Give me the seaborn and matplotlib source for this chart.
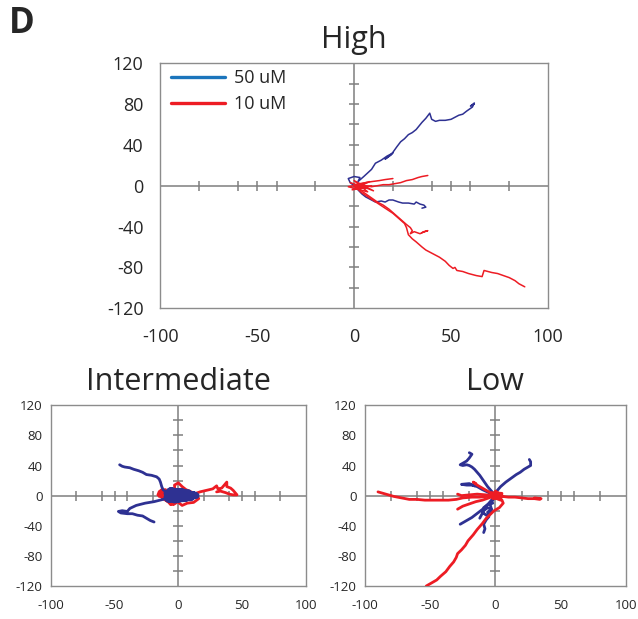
import matplotlib
matplotlib.use("Agg")
import matplotlib.pyplot as plt
from matplotlib.lines import Line2D
import numpy as np
import pandas as pd
import seaborn as sns

sns.set_style("white")
plt.rcParams["font.family"] = ["Open Sans", "DejaVu Sans"]

# ---- cell trajectories (x, y displacement) ----
# High concentration gradient
high_50uM = [
    ([0, -2, -3, 0, 3, 2, 5, 9, 11, 14, 17, 20, 16, 19, 22, 24, 26, 28, 30, 32, 35, 37, 39, 40, 42, 44, 47, 50, 54, 56, 58, 61, 62, 60, 62],
     [0, 3, 7, 9, 8, 4, 9, 16, 22, 25, 29, 32, 26, 30, 38, 43, 46, 50, 52, 55, 62, 66, 71, 65, 63, 64, 64, 65, 69, 70, 73, 77, 81, 78, 80]),
    ([0, 2, 4, 6, 9, 11, 14, 16, 18, 20, 23, 25, 28, 31, 32, 34, 36, 37, 35],
     [0, -4, -8, -11, -14, -16, -15, -16, -14, -14, -16, -17, -17, -18, -16, -18, -19, -21, -22]),
]
high_10uM = [
    ([0, 3, 6, 9, 12, 15, 18, 21, 24, 27, 30, 33, 35, 38],
     [0, -1, 0, -1, 0, 1, 1, 2, 3, 5, 6, 8, 9, 10]),
    ([0, 3, 6, 9, 13, 16, 20],
     [0, 2, 3, 4, 5, 6, 7]),
    ([0, 3, 6, 9, 12, 15, 18, 21, 24, 27, 29, 30, 29, 31, 34, 36, 38, 35],
     [0, -4, -8, -12, -16, -19, -23, -28, -33, -38, -41, -44, -47, -45, -47, -45, -44, -46]),
    ([0, 4, 8, 12, 16, 20, 23, 26, 27, 28, 30, 32, 35, 37, 40, 44, 47, 49, 51, 52, 53, 56, 59, 63, 66, 67, 69, 71, 74, 77, 80, 83, 85, 88],
     [0, -7, -12, -17, -22, -27, -32, -37, -41, -48, -52, -55, -60, -63, -66, -70, -74, -78, -81, -80, -83, -84, -86, -88, -89, -83, -84, -85, -86, -88, -90, -93, -96, -99]),
    ([-2, 6, -1, 8, 2, 10, 0, 7, -3, 5, 1, 9],
     [3, -2, -4, 4, 1, -5, 5, -6, -1, 2, -3, 0]),
]

# Intermediate concentration gradient
inter_50uM = [
    ([0, -5, -9, -12, -13, -14, -15, -17, -21, -25, -28, -31, -35, -38, -42, -44, -46],
     [0, 2, 4, 8, 12, 18, 22, 25, 27, 28, 31, 33, 35, 37, 38, 39, 41]),
    ([0, -6, -12, -19, -26, -33, -38, -40, -44, -47, -45, -40, -36, -32, -28, -25, -22, -19],
     [0, -3, -5, -8, -10, -13, -17, -21, -20, -21, -23, -24, -24, -26, -27, -30, -33, -35]),
    ([-9, 4, -8, 8, -7, 12, -9, 10, -6, 14, -8, 6, -5, 11, -3, 2, -8, 13, 0],
     [3, 5, -4, 4, 6, 1, -2, -3, 7, 0, -5, -4, 5, -1, -6, 6, 1, 1, 0]),
]
inter_10uM = [
    ([0, 6, 12, 17, 22, 27, 30, 31, 34, 36, 38, 38, 41, 43, 46, 43, 40, 37, 33, 30],
     [0, 1, 2, 5, 7, 9, 13, 9, 10, 14, 18, 12, 10, 7, 1, 1, 2, 4, 6, 5]),
    ([0, -5, -9, -13, -15, -16, -12, -8, -4, -2, -3, 0, 3, 6, 10, 14, 16, 12, 7, 3, 0, -3, -6, -8, -12, -14, -10],
     [0, 3, 6, 8, 5, 1, -3, -8, -12, -10, 14, 17, 12, 8, 5, 2, -4, -9, -10, -13, -9, -5, -12, -8, -4, 4, 2]),
    ([-14, -10, -15, -9, -13, -8, -15, -11],
     [2, 8, 5, 1, 7, 3, -1, 6]),
]

# Low concentration gradient
low_50uM = [
    ([0, 1, 4, 8, 12, 16, 19, 22, 25, 27, 27, 26],
     [0, 6, 12, 18, 23, 28, 31, 35, 38, 40, 45, 48]),
    ([0, -3, -6, -8, -10, -12, -14, -16, -18, -20, -22, -25, -27, -24, -22, -20, -18, -20],
     [0, 6, 12, 17, 22, 27, 31, 35, 38, 40, 41, 40, 41, 44, 46, 50, 55, 57]),
    ([0, -5, -10, -14, -18, -22, -26, -20, -16],
     [0, 4, 8, 12, 14, 14, 15, 16, 13]),
    ([0, -3, -6, -9, -12, -15, -18, -22, -25, -27],
     [0, -6, -12, -17, -21, -25, -29, -33, -36, -38]),
    ([0, -2, -4, -3, -6, -5, -7, -9, -8, -9],
     [0, -6, -12, -18, -22, -28, -32, -38, -44, -49]),
    ([-2, -6, -9, -10, -7, -4, -3, -6, -9, -12],
     [-10, -12, -16, -22, -26, -24, -18, -16, -20, -30]),
]
low_10uM = [
    ([0, -6, -12, -18, -25, -30, -36, -42, -48, -54, -60, -66, -72, -78, -82, -86, -90],
     [0, -1, -2, -2, -3, -5, -6, -6, -6, -6, -5, -5, -3, -1, 1, 3, 5]),
    ([0, 3, 5, 6, 3, -1, -4, -7, -10, -14, -17, -21, -23, -26, -29, -30, -32, -35, -38, -42, -45, -49, -53],
     [0, -2, -6, -10, -16, -20, -25, -30, -37, -45, -52, -60, -66, -72, -77, -82, -88, -94, -101, -107, -112, -116, -120]),
    ([0, 5, 10, 15, 20, 25, 30, 34, 35, 30],
     [0, -1, -2, -2, -3, -4, -4, -5, -4, -3]),
    ([0, -4, -8, -11, -14, -17, -15],
     [0, 4, 8, 11, 14, 18, 16]),
    ([0, -5, -10, -15, -20, -25, -29],
     [0, -3, -6, -8, -11, -14, -18]),
    ([0, -7, -14, -20, -26, -29],
     [0, 1, 2, 1, 0, 2]),
    ([-3, 5, -2, 6, 0, 4, -5, 3],
     [4, 3, -4, -1, 6, -6, 0, 2]),
]

panel_titles = ["High", "Intermediate", "Low"]
legend_labels = ["50 uM", "10 uM"]
x_ticks = [-100, -50, 0, 50, 100]
y_ticks = [-120, -80, -40, 0, 40, 80, 120]
x_marks = [-80, -60, -50, -40, -20, 20, 40, 50, 60, 80]
y_marks = [-100, -80, -60, -40, -20, 20, 40, 60, 80, 100]

NAVY = "#2e3192"
RED = "#ed1c24"
LEGEND_BLUE = "#1b75bc"
AXIS_GRAY = "#7f7f7f"


def tracks_frame(tracks, label):
    rows = []
    for i, (xs, ys) in enumerate(tracks):
        for j, (x, y) in enumerate(zip(xs, ys)):
            rows.append({"x": x, "y": y, "track": f"{label}-{i}", "step": j, "cond": label})
    return pd.DataFrame(rows)


def draw_panel(ax, blue, red, title, lw, tick_fs, title_fs, lpad_x, lpad_y, blue_on_top, blob=None):
    df_b = tracks_frame(blue, "50 uM")
    df_r = tracks_frame(red, "10 uM")
    # crossing axes through the origin with short tick marks
    ax.axhline(0, color=AXIS_GRAY, lw=1.1, zorder=1)
    ax.axvline(0, color=AXIS_GRAY, lw=1.1, zorder=1)
    ax.plot(x_marks, [0] * len(x_marks), ls="none", marker="|", ms=7, mew=1.1,
            color=AXIS_GRAY, zorder=1)
    ax.plot([0] * len(y_marks), y_marks, ls="none", marker="_", ms=7, mew=1.1,
            color=AXIS_GRAY, zorder=1)
    order = [(df_r, RED, 2), (df_b, NAVY, 3)] if blue_on_top else [(df_b, NAVY, 2), (df_r, RED, 3)]
    for df, col, z in order:
        for tid, sub in df.groupby("track", sort=False):
            w = lw * 2.4 if (blob is not None and col == NAVY and tid == blob) else lw
            sns.lineplot(data=sub, x="x", y="y", sort=False, estimator=None,
                         color=col, lw=w, ax=ax, zorder=z, legend=False)
    ax.set_xlim(-100, 100)
    ax.set_ylim(-120, 120)
    ax.set_xticks(x_ticks)
    ax.set_yticks(y_ticks)
    ax.set_xticklabels([str(v) for v in x_ticks])
    ax.set_yticklabels([str(v) for v in y_ticks])
    ax.tick_params(axis="x", length=0, labelsize=tick_fs, pad=lpad_x)
    ax.tick_params(axis="y", length=0, labelsize=tick_fs, pad=lpad_y)
    ax.set_xlabel("")
    ax.set_ylabel("")
    for s in ax.spines.values():
        s.set_visible(True)
        s.set_color("#8c8c8c")
        s.set_linewidth(1.0)
    ax.set_title(title, fontsize=title_fs, pad=11)


fig = plt.figure(figsize=(6.38, 6.19), dpi=100)
ax_high = fig.add_axes([0.251, 0.502, 0.608, 0.396])
ax_int = fig.add_axes([0.0795, 0.0533, 0.400, 0.292])
ax_low = fig.add_axes([0.572, 0.0533, 0.409, 0.292])

draw_panel(ax_high, high_50uM, high_10uM, panel_titles[0], 1.1, 13, 22, 14, 12, False)
draw_panel(ax_int, inter_50uM, inter_10uM, panel_titles[1], 2.0, 9.5, 22, 9, 6, True,
           blob="50 uM-2")
draw_panel(ax_low, low_50uM, low_10uM, panel_titles[2], 2.0, 9.5, 22, 9, 6, False)

handles = [Line2D([0], [0], color=LEGEND_BLUE, lw=2.4),
           Line2D([0], [0], color=RED, lw=2.4)]
ax_high.legend(handles, legend_labels, loc="upper left", frameon=False, fontsize=13,
               handlelength=3.0, handletextpad=0.5, labelspacing=0.45,
               borderaxespad=0.2, bbox_to_anchor=(0.0, 1.02))

fig.text(0.014, 0.961, "D", fontsize=25, fontweight="bold", va="center", ha="left")

fig.savefig("out.png", dpi=100)
